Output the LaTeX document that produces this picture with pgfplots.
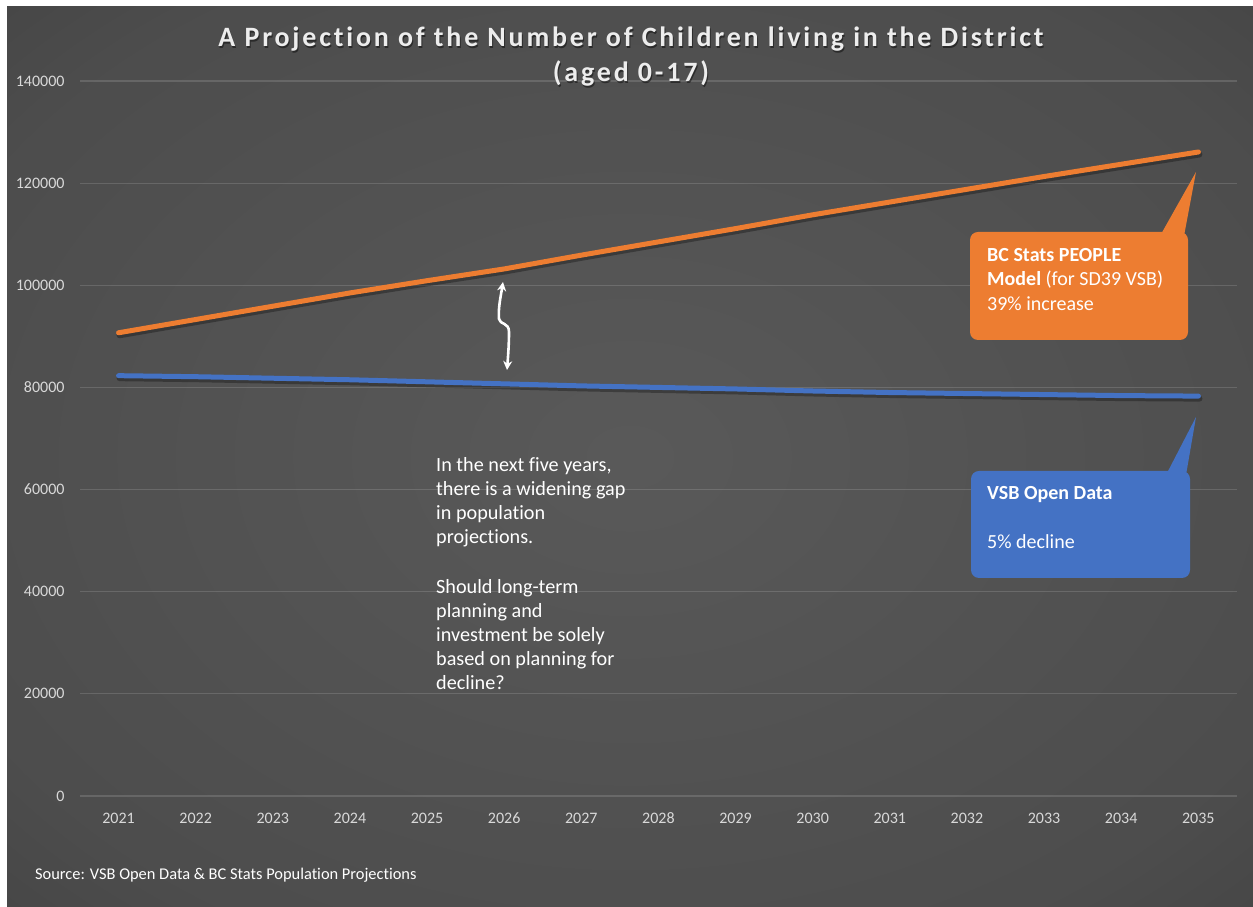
\documentclass[border=0pt]{standalone}
\usepackage{fontspec}
\setmainfont[Ligatures=NoCommon]{Carlito}
\newfontfamily\titlefont[LetterSpace=10,Ligatures=NoCommon]{Carlito}
\usepackage{pgfplots}
\pgfplotsset{compat=1.18}
\usetikzlibrary{arrows.meta}
\pgfdeclareradialshading{bgshade}{\pgfpoint{0bp}{0bp}}{%
  rgb(0bp)=(0.35,0.35,0.35); rgb(30bp)=(0.30,0.30,0.30); rgb(50bp)=(0.22,0.22,0.22); rgb(72bp)=(0.14,0.14,0.14)}
\definecolor{xlorange}{RGB}{237,125,49}
\definecolor{xlblue}{RGB}{68,114,196}
\definecolor{ticktext}{RGB}{217,217,217}
\pgfplotstableread{
year orange blue
2021 90700 82300
2022 93300 82100
2023 95900 81800
2024 98500 81500
2025 100900 81100
2026 103200 80700
2027 105900 80300
2028 108500 80000
2029 111100 79700
2030 113800 79300
2031 116300 79000
2032 118800 78800
2033 121300 78600
2034 123700 78400
2035 126100 78300
}\datatable
\begin{document}
\begin{tikzpicture}[x=1pt,y=1pt]
\fill[white] (0,0) rectangle (1253,907);
\shade[shading=bgshade] (7,0) rectangle (1253,900);
\begin{axis}[
  at={(80pt,111pt)}, anchor=south west,
  scale only axis, width=1157pt, height=715pt,
  xmin=2020.5, xmax=2035.5, ymin=0, ymax=140000,
  xtick={2021,...,2035}, ytick={0,20000,...,140000},
  axis line style={draw=none}, major tick length=0pt,
  ymajorgrids, grid style={white, opacity=0.14, line width=1.2pt},
  tick label style={font=\fontsize{16}{19}\selectfont, text=ticktext},
  xticklabel={\pgfmathprintnumber[fixed,precision=0,1000 sep={},assume math mode=true]{\tick}},
  yticklabel={\pgfmathprintnumber[fixed,precision=0,1000 sep={},assume math mode=true]{\tick}},
  scaled y ticks=false, scaled x ticks=false,
  yticklabel style={xshift=-12pt},
  xticklabel style={yshift=-13pt, anchor=north, text height=11pt, text depth=0pt},
  clip=false,
]
\addplot[black, opacity=0.3, line width=6pt, xshift=1pt, yshift=-2.5pt, line cap=round] table[x=year,y=orange] {\datatable};
\addplot[black, opacity=0.3, line width=6pt, xshift=1pt, yshift=-2.5pt, line cap=round] table[x=year,y=blue] {\datatable};
\addplot[xlorange, line width=5pt, line cap=round] table[x=year,y=orange] {\datatable};
\addplot[xlblue, line width=5pt, line cap=round] table[x=year,y=blue] {\datatable};
\end{axis}
% title
\node[text=black, opacity=0.45, font=\titlefont\fontsize{28}{35}\selectfont\bfseries, anchor=base] at (632,{907-48.5}) {A Projection of the Number of Children living in the District};
\node[text=white!93!black, font=\titlefont\fontsize{28}{35}\selectfont\bfseries, anchor=base] at (631,{907-47}) {A Projection of the Number of Children living in the District};
\node[text=black, opacity=0.45, font=\titlefont\fontsize{28}{35}\selectfont\bfseries, anchor=base] at (632,{907-83.5}) {(aged 0-17)};
\node[text=white!93!black, font=\titlefont\fontsize{28}{35}\selectfont\bfseries, anchor=base] at (631,{907-82}) {(aged 0-17)};
% source
\node[text=white, font=\fontsize{16.4}{19}\selectfont, anchor=base west, inner sep=0pt] at (35,{907-880}) {Source: VSB Open Data \& BC Stats Population Projections};
% gap arrow
\draw[white, line width=2.6pt, line join=round, {Stealth[length=9pt,width=9pt]}-{Stealth[length=9pt,width=9pt]}] (503,{907-282}) .. controls (501,{907-295}) and (498,{907-308}) .. (499,{907-319}) .. controls (500,{907-325}) and (509,{907-322}) .. (509,{907-332}) .. controls (509,{907-345}) and (508,{907-357}) .. (507,{907-370});
% middle text
\node[text=white, font=\fontsize{20.2}{24}\selectfont, align=left, anchor=north west, inner sep=0pt] at (436,{907-457}) {In the next five years,\\there is a widening gap\\in population\\projections.\\[26pt]Should long-term\\planning and\\investment be solely\\based on planning for\\decline?};
% orange callout
\fill[xlorange] (1160,{907-236}) -- (1184,{907-236}) -- (1196,{907-172}) -- cycle;
\fill[xlorange, rounded corners=8pt] (970,{907-340}) rectangle (1188,{907-232});
\node[text=white, font=\fontsize{20}{24.5}\selectfont, align=left, anchor=north west, inner sep=0pt] at (987,{907-248}) {\textbf{BC Stats PEOPLE}\\\textbf{Model} (for SD39 VSB)\\39\% increase};
% blue callout
\fill[xlblue] (1166,{907-475}) -- (1186,{907-475}) -- (1196,{907-417}) -- cycle;
\fill[xlblue, rounded corners=8pt] (971,{907-578}) rectangle (1190,{907-471});
\node[text=white, font=\fontsize{20}{24}\selectfont, align=left, anchor=north west, inner sep=0pt] at (987,{907-486}) {\textbf{VSB Open Data}\\[25pt]5\% decline};
\end{tikzpicture}
\end{document}
